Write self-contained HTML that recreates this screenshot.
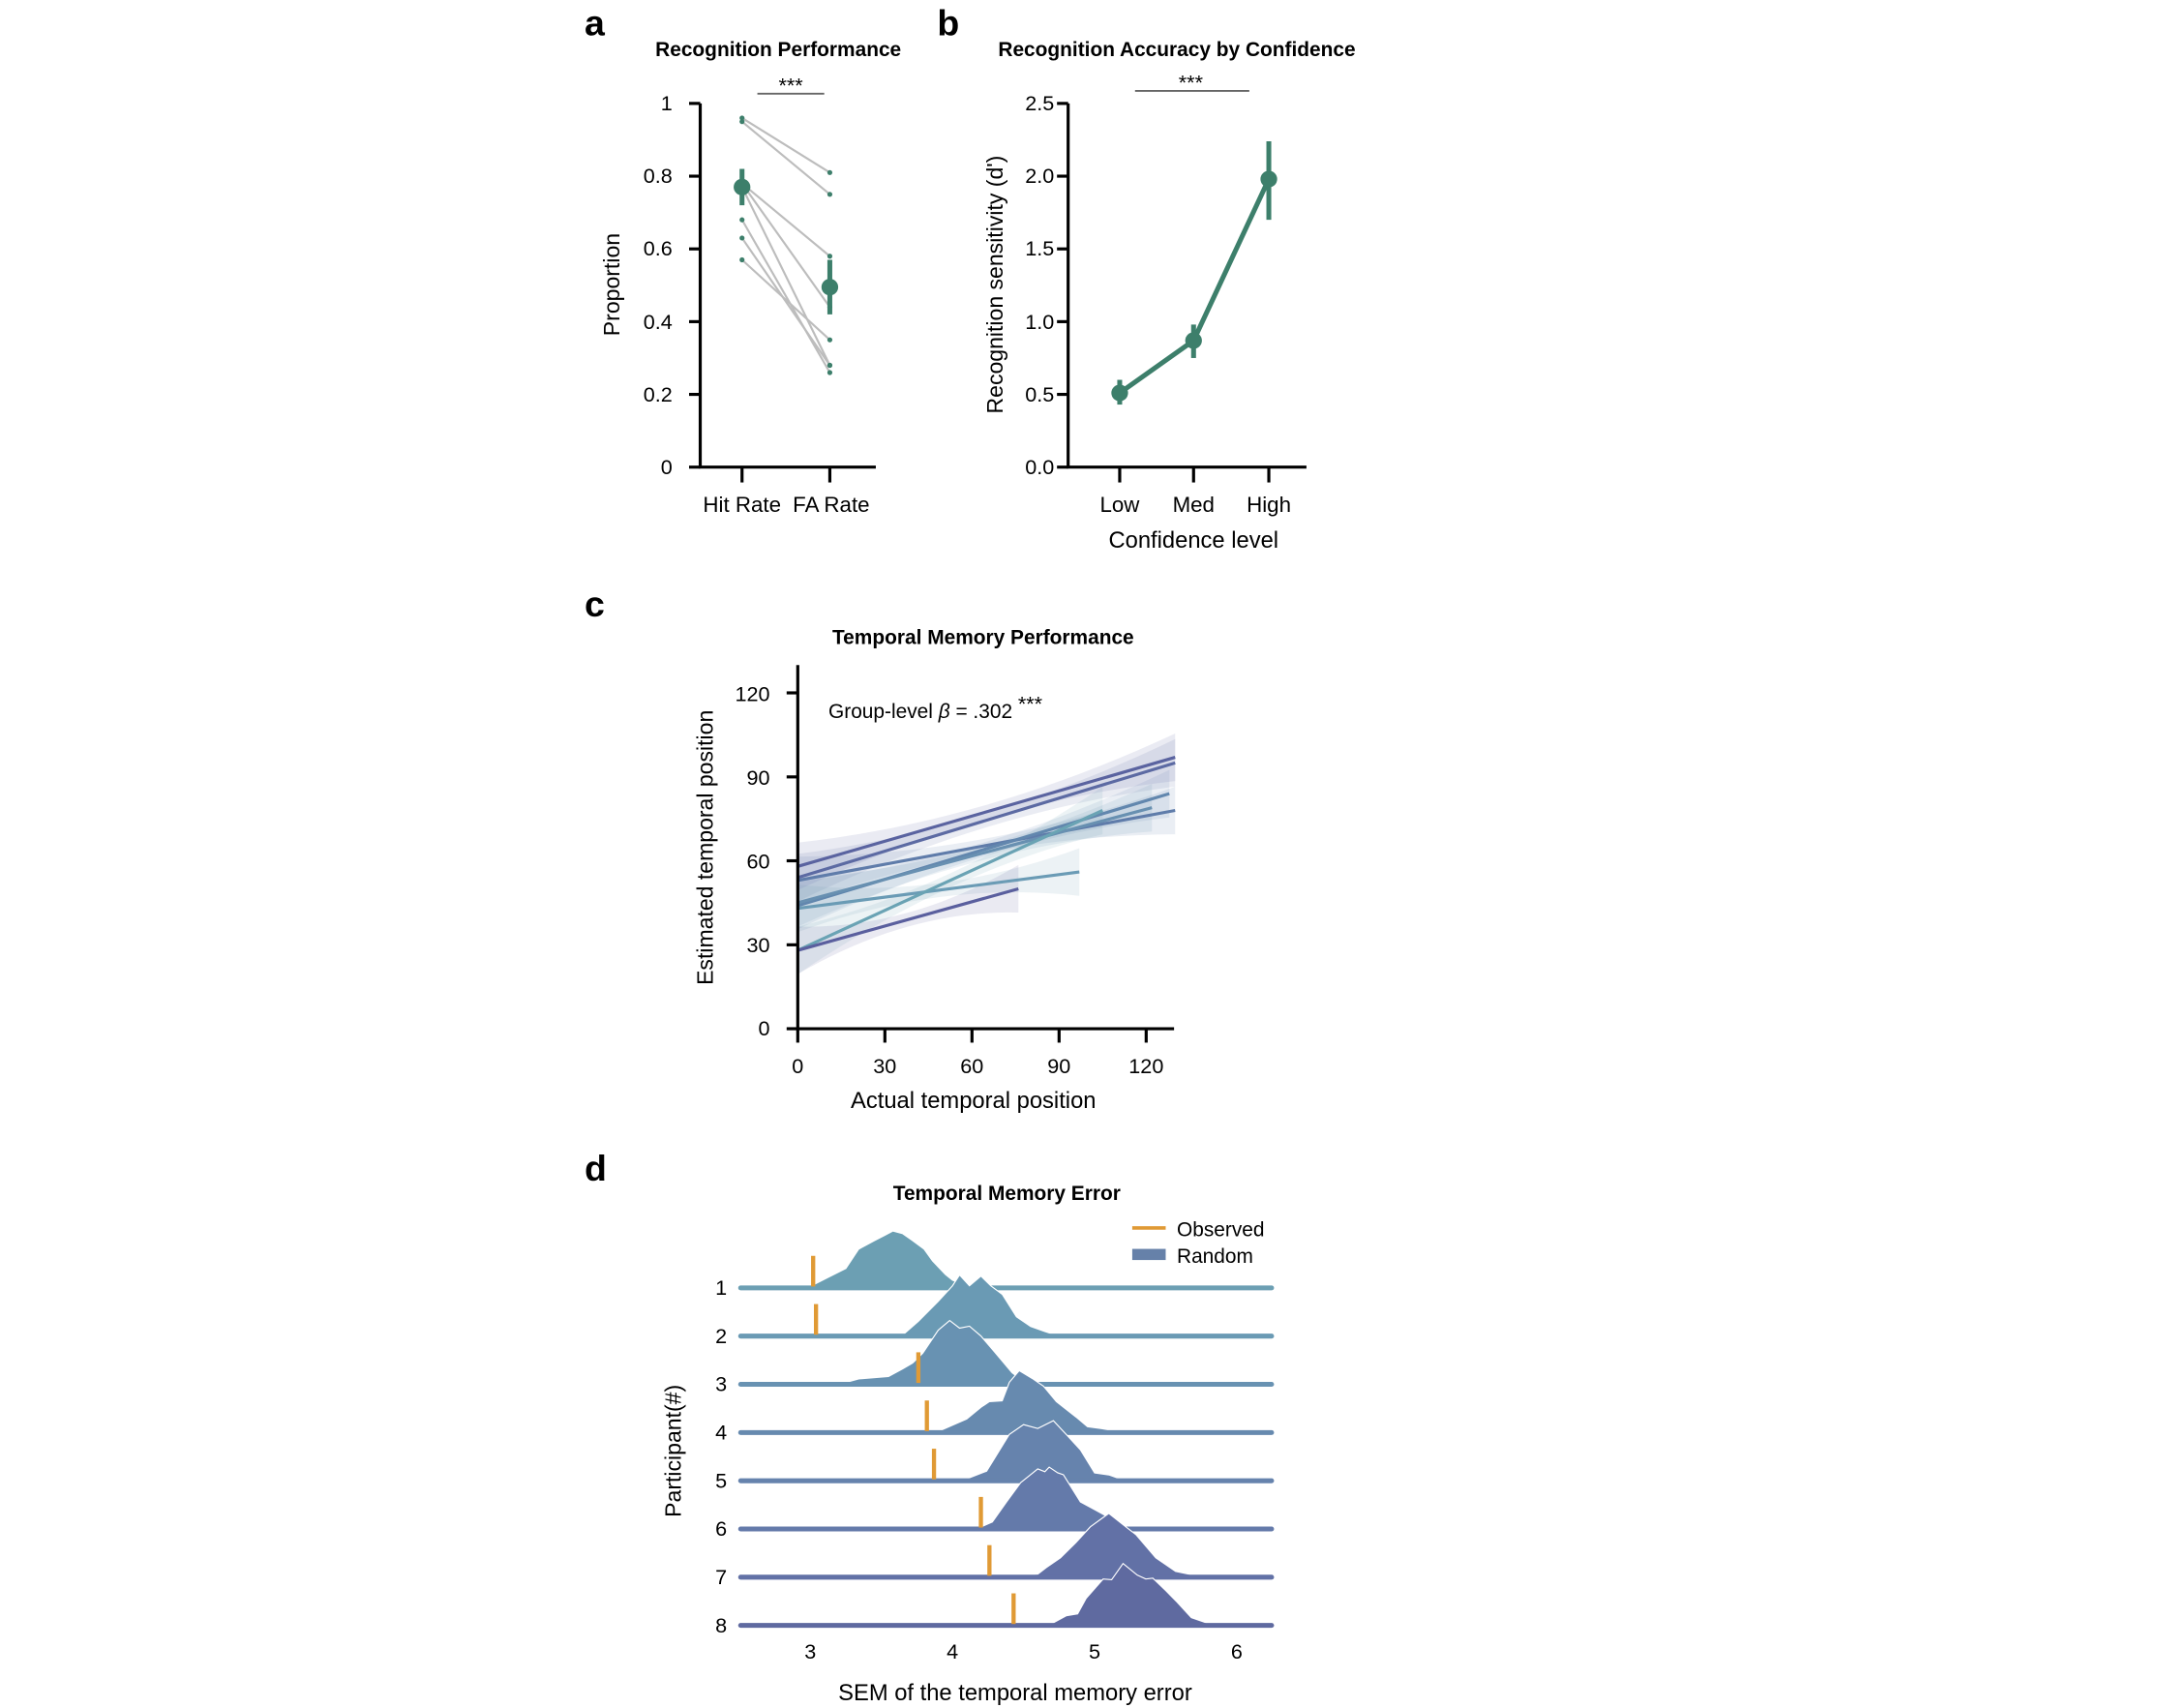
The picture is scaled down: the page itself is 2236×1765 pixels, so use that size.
<!DOCTYPE html>
<html><head><meta charset="utf-8">
<style>
html,body{margin:0;padding:0;background:#fff;}
svg{display:block;font-family:"Liberation Sans",Arial,sans-serif;}
</style></head>
<body>
<svg id="s" width="2236" height="1765" viewBox="0 0 2236 1765" xmlns="http://www.w3.org/2000/svg">
<rect width="2236" height="1765" fill="#fff"/>
<g id="g" transform="translate(-8,-4) scale(1.44)">
<!-- Panel a -->
<text x="425" y="28" font-size="26" font-weight="bold">a</text>
<text x="564" y="43" font-size="14.5" font-weight="bold" text-anchor="middle">Recognition Performance</text>
<line x1="549" y1="70" x2="597" y2="70" stroke="#666" stroke-width="1.3"/>
<text x="573" y="69" font-size="15" text-anchor="middle">***</text>
<g stroke="#000" stroke-width="2.2" fill="none">
<polyline points="508,77 508,338 634,338"/>
<line x1="500" y1="77" x2="508" y2="77"/><line x1="500" y1="129.2" x2="508" y2="129.2"/>
<line x1="500" y1="181.4" x2="508" y2="181.4"/><line x1="500" y1="233.6" x2="508" y2="233.6"/>
<line x1="500" y1="285.8" x2="508" y2="285.8"/><line x1="500" y1="338" x2="508" y2="338"/>
<line x1="538" y1="338" x2="538" y2="349"/><line x1="601" y1="338" x2="601" y2="349"/>
</g>
<g font-size="15" text-anchor="end">
<text x="488" y="82">1</text><text x="488" y="134">0.8</text><text x="488" y="186">0.6</text>
<text x="488" y="239">0.4</text><text x="488" y="291">0.2</text><text x="488" y="343">0</text>
</g>
<g font-size="15.5" text-anchor="middle">
<text x="538" y="370">Hit Rate</text><text x="602" y="370">FA Rate</text>
</g>
<text transform="translate(450,207) rotate(-90)" font-size="16" text-anchor="middle">Proportion</text>
<g id="pa"></g>

<!-- Panel b -->
<text x="678" y="28" font-size="26" font-weight="bold">b</text>
<text x="850" y="43" font-size="14.5" font-weight="bold" text-anchor="middle">Recognition Accuracy by Confidence</text>
<line x1="820" y1="68" x2="902" y2="68" stroke="#666" stroke-width="1.3"/>
<text x="860" y="67" font-size="15" text-anchor="middle">***</text>
<g stroke="#000" stroke-width="2.2" fill="none">
<polyline points="772,77 772,338 943,338"/>
<line x1="764" y1="77" x2="772" y2="77"/><line x1="764" y1="129.2" x2="772" y2="129.2"/>
<line x1="764" y1="181.4" x2="772" y2="181.4"/><line x1="764" y1="233.6" x2="772" y2="233.6"/>
<line x1="764" y1="285.8" x2="772" y2="285.8"/><line x1="764" y1="338" x2="772" y2="338"/>
<line x1="809" y1="338" x2="809" y2="349"/><line x1="862" y1="338" x2="862" y2="349"/><line x1="916" y1="338" x2="916" y2="349"/>
</g>
<g font-size="15" text-anchor="end">
<text x="762" y="82">2.5</text><text x="762" y="134">2.0</text><text x="762" y="186">1.5</text>
<text x="762" y="239">1.0</text><text x="762" y="291">0.5</text><text x="762" y="343">0.0</text>
</g>
<g font-size="15.5" text-anchor="middle">
<text x="809" y="370">Low</text><text x="862" y="370">Med</text><text x="916" y="370">High</text>
<text x="862" y="396" font-size="16.5">Confidence level</text>
</g>
<text transform="translate(725,207) rotate(-90)" font-size="16" text-anchor="middle">Recognition sensitivity (d')</text>
<g id="pb"></g>

<!-- Panel c -->
<g transform="translate(0,-4)">
<text x="425" y="449" font-size="26" font-weight="bold">c</text>
<text x="711" y="469" font-size="14.5" font-weight="bold" text-anchor="middle">Temporal Memory Performance</text>
<g id="pc"></g>
<g stroke="#000" stroke-width="2.2" fill="none">
<polyline points="578,484 578,745 848,745"/>
<line x1="570" y1="504" x2="578" y2="504"/><line x1="570" y1="564.3" x2="578" y2="564.3"/>
<line x1="570" y1="624.5" x2="578" y2="624.5"/><line x1="570" y1="684.8" x2="578" y2="684.8"/>
<line x1="570" y1="745" x2="578" y2="745"/>
<line x1="578" y1="745" x2="578" y2="755"/><line x1="640.5" y1="745" x2="640.5" y2="755"/>
<line x1="703" y1="745" x2="703" y2="755"/><line x1="765.5" y1="745" x2="765.5" y2="755"/>
<line x1="828" y1="745" x2="828" y2="755"/>
</g>
<g font-size="15" text-anchor="end">
<text x="558" y="510">120</text><text x="558" y="570">90</text><text x="558" y="630">60</text>
<text x="558" y="690">30</text><text x="558" y="750">0</text>
</g>
<g font-size="15" text-anchor="middle">
<text x="578" y="777">0</text><text x="640.5" y="777">30</text><text x="703" y="777">60</text>
<text x="765.5" y="777">90</text><text x="828" y="777">120</text>
<text x="704" y="802" font-size="16.5">Actual temporal position</text>
</g>
<text transform="translate(517,615) rotate(-90)" font-size="16" text-anchor="middle">Estimated temporal position</text>
<text x="600" y="522" font-size="14.5">Group-level <tspan font-style="italic">β</tspan> = .302 <tspan dy="-5" font-size="15">***</tspan></text>
</g>

<!-- Panel d -->
<g transform="translate(0,-12)">
<text x="425" y="862" font-size="26" font-weight="bold">d</text>
<text x="728" y="876" font-size="14.5" font-weight="bold" text-anchor="middle">Temporal Memory Error</text>
<line x1="818" y1="896" x2="842" y2="896" stroke="#e09a35" stroke-width="2.5"/>
<text x="850" y="902" font-size="14.5">Observed</text>
<rect x="818" y="911" width="24" height="8" fill="#6681a9"/>
<text x="850" y="921" font-size="14.5">Random</text>
<g id="pd"></g>
<g font-size="15" text-anchor="middle">
<text x="587" y="1205">3</text><text x="689" y="1205">4</text><text x="791" y="1205">5</text><text x="893" y="1205">6</text>
<text x="734" y="1235" font-size="16.5">SEM of the temporal memory error</text>
</g>
<text transform="translate(494,1056) rotate(-90)" font-size="16" text-anchor="middle">Participant(#)</text>
</g>
</g>
</svg>
<script>
var NS="http://www.w3.org/2000/svg";
function el(p,t,a){var e=document.createElementNS(NS,t);for(var k in a)e.setAttribute(k,a[k]);p.appendChild(e);return e;}
var G="#3d7f6b";
var pa=document.getElementById("pa");
function ay(v){return 338-v*261;}
var pairs=[[0.96,0.81],[0.95,0.75],[0.78,0.58],[0.78,0.44],[0.77,0.28],[0.68,0.26],[0.63,0.28],[0.57,0.35]];
pairs.forEach(function(p){el(pa,"line",{x1:538,y1:ay(p[0]),x2:601,y2:ay(p[1]),stroke:"#bdbdbd","stroke-width":1.5});});
pairs.forEach(function(p){el(pa,"circle",{cx:538,cy:ay(p[0]),r:1.8,fill:G});el(pa,"circle",{cx:601,cy:ay(p[1]),r:1.8,fill:G});});
el(pa,"line",{x1:538,y1:ay(0.72),x2:538,y2:ay(0.82),stroke:G,"stroke-width":3.5});
el(pa,"circle",{cx:538,cy:ay(0.77),r:6,fill:G});
el(pa,"line",{x1:601,y1:ay(0.42),x2:601,y2:ay(0.57),stroke:G,"stroke-width":3.5});
el(pa,"circle",{cx:601,cy:ay(0.495),r:6,fill:G});
var pb=document.getElementById("pb");
function by(v){return 338-v*104.4;}
el(pb,"polyline",{points:"809,"+by(0.51)+" 862,"+by(0.87)+" 916,"+by(1.98),fill:"none",stroke:G,"stroke-width":3.5});
[[809,0.51,0.43,0.6],[862,0.87,0.75,0.98],[916,1.98,1.7,2.24]].forEach(function(p){
 el(pb,"line",{x1:p[0],y1:by(p[2]),x2:p[0],y2:by(p[3]),stroke:G,"stroke-width":3.5});
 el(pb,"circle",{cx:p[0],cy:by(p[1]),r:6,fill:G});});
var pc=document.getElementById("pc");
function cx(v){return 578+v*2.083;} function cy(v){return 745-v*2.008;}
var L=[[0,58,130,97,"#5a63a0"],[0,54,130,95,"#5c6aa3"],[0,53,130,78,"#5f7caa"],[0,44,128,84,"#6287ae"],[0,45,122,79,"#6890b1"],[0,43,97,56,"#6a9bb5"],[0,28,105,78,"#6aa3b4"],[0,28,76,50,"#5a5f9e"]];
L.forEach(function(l){
 var n=20,up=[],dn=[];
 for(var i=0;i<=n;i++){var t=i/n,x=l[0]+(l[2]-l[0])*t,y=l[1]+(l[3]-l[1])*t,w=2.5+6*Math.pow(2*t-1,2);
  up.push(cx(x)+","+cy(y+w));dn.unshift(cx(x)+","+cy(y-w));}
 el(pc,"polygon",{points:up.concat(dn).join(" "),fill:l[4],"fill-opacity":0.13});});
L.forEach(function(l){el(pc,"line",{x1:cx(l[0]),y1:cy(l[1]),x2:cx(l[2]),y2:cy(l[3]),stroke:l[4],"stroke-width":2.2});});
var pd=document.getElementById("pd");
function dx(v){return 587+(v-3)*102;}
var S=3.6, SP=34.6, B0=939;
var D=[
 {c:"#6c9fb3",p:[[2.6,0],[2.9,1],[3.0,4],[3.13,28],[3.25,50],[3.34,100],[3.45,122],[3.52,135],[3.58,147],[3.65,140],[3.72,122],[3.8,100],[3.86,70],[3.95,35],[4.0,20],[4.1,4],[4.2,0]],o:3.02},
 {c:"#6a9ab4",p:[[3.5,0],[3.65,3],[3.76,38],[3.9,90],[4.0,130],[4.05,158],[4.12,130],[4.2,155],[4.27,130],[4.35,108],[4.45,50],[4.55,25],[4.65,12],[4.75,0]],o:3.04},
 {c:"#6892b2",p:[[3.2,0],[3.34,14],[3.55,20],[3.65,40],[3.72,55],[3.79,80],[3.9,140],[3.98,165],[4.05,145],[4.12,150],[4.2,125],[4.3,82],[4.42,30],[4.5,8],[4.6,0]],o:3.76},
 {c:"#678aaf",p:[[3.8,0],[3.9,3],[4.1,35],[4.2,65],[4.26,80],[4.35,82],[4.4,130],[4.47,160],[4.56,140],[4.64,120],[4.73,80],[4.87,40],[4.95,15],[5.05,10],[5.2,0]],o:3.82},
 {c:"#6683ad",p:[[3.9,0],[4.1,5],[4.24,25],[4.3,60],[4.4,120],[4.5,145],[4.6,135],[4.71,155],[4.8,120],[4.9,80],[5.0,20],[5.1,15],[5.2,2],[5.3,0]],o:3.87},
 {c:"#647aaa",p:[[3.9,0],[4.2,5],[4.28,18],[4.38,70],[4.48,120],[4.6,155],[4.65,148],[4.68,160],[4.74,145],[4.78,140],[4.9,70],[5.0,50],[5.1,30],[5.2,8],[5.3,0]],o:4.2},
 {c:"#6271a6",p:[[4.3,0],[4.6,8],[4.66,25],[4.76,50],[4.87,90],[4.97,130],[5.1,165],[5.22,130],[5.29,110],[5.43,50],[5.57,15],[5.7,5],[5.8,0]],o:4.26},
 {c:"#5f6aa0",p:[[4.4,0],[4.7,5],[4.8,25],[4.88,30],[4.94,70],[5.06,120],[5.12,118],[5.2,160],[5.3,130],[5.36,120],[5.41,122],[5.5,90],[5.58,60],[5.68,20],[5.8,5],[5.95,0]],o:4.43}];
D.forEach(function(d,i){
 var b=B0+SP*i, pts=[];
 d.p.forEach(function(q){pts.push([dx(q[0]),b-q[1]/S]);});
 var str="M"+pts.map(function(q){return q[0].toFixed(1)+","+q[1].toFixed(1);}).join(" L");
 el(pd,"path",{d:str+" Z",fill:d.c});
 el(pd,"path",{d:str,fill:"none",stroke:"#fff","stroke-width":0.8});
 el(pd,"line",{x1:537,y1:b,x2:918,y2:b,stroke:d.c,"stroke-width":3.5,"stroke-linecap":"round"});
 var t=el(pd,"text",{x:523,y:b+5,"font-size":15,"text-anchor":"middle"});t.textContent=String(i+1);
});
D.forEach(function(d,i){var b=B0+SP*i;el(pd,"line",{x1:dx(d.o),y1:b-23,x2:dx(d.o),y2:b-1,stroke:"#e09a35","stroke-width":3});});
</script>
</body></html>
